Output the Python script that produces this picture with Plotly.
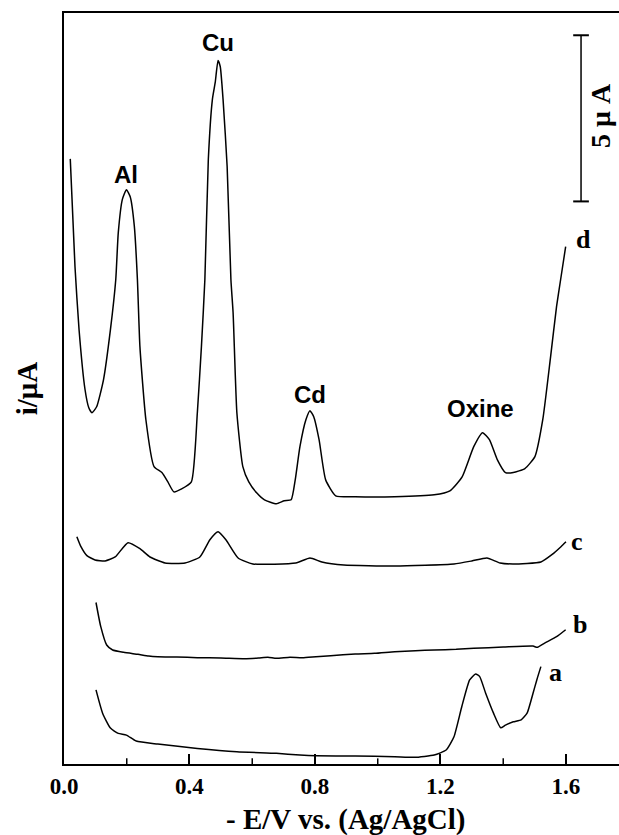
import plotly.graph_objects as go

# Differential pulse voltammograms: potential (-E/V vs Ag/AgCl) and current (uA, offset per curve)
d_potential = [0.020, 0.035, 0.048, 0.067, 0.079, 0.089, 0.104, 0.126, 0.148, 0.165, 0.173, 0.186,
               0.199, 0.211, 0.224, 0.234, 0.242, 0.261, 0.287, 0.312, 0.331, 0.350, 0.375, 0.406,
               0.425, 0.438, 0.449, 0.460, 0.473, 0.482, 0.491, 0.498, 0.507, 0.520, 0.532, 0.539,
               0.551, 0.570, 0.589, 0.614, 0.639, 0.677, 0.702, 0.724, 0.737, 0.752, 0.771, 0.784,
               0.796, 0.813, 0.834, 0.866, 0.928, 1.054, 1.180, 1.230, 1.269, 1.306, 1.334, 1.356,
               1.381, 1.407, 1.432, 1.469, 1.501, 1.526, 1.551, 1.570, 1.583, 1.599]
d_current = [18.21, 14.97, 13.07, 11.27, 10.72, 10.57, 10.75, 11.57, 13.07, 14.58, 15.99, 16.99,
             17.28, 17.07, 16.20, 14.58, 12.56, 10.36, 8.95, 8.77, 8.49, 8.19, 8.28, 8.49,
             10.57, 12.56, 14.58, 18.19, 20.00, 20.51, 21.17, 20.99, 20.00, 17.98, 14.58, 13.58,
             10.57, 8.95, 8.49, 8.16, 7.95, 7.83, 7.92, 7.95, 8.55, 9.55, 10.36, 10.63,
             10.45, 9.76, 8.55, 8.07, 8.04, 8.04, 8.10, 8.22, 8.64, 9.55, 9.97, 9.76,
             9.16, 8.77, 8.77, 8.89, 9.25, 10.36, 12.26, 13.77, 14.58, 15.57]

c_potential = [0.041, 0.054, 0.073, 0.099, 0.131, 0.163, 0.204, 0.242, 0.274, 0.322, 0.386, 0.433,
               0.465, 0.491, 0.516, 0.555, 0.602, 0.739, 0.784, 0.822, 0.892, 1.055, 1.243, 1.300,
               1.348, 1.390, 1.431, 1.520, 1.555, 1.584, 1.600]
c_current = [6.84, 6.54, 6.27, 6.14, 6.11, 6.23, 6.66, 6.48, 6.23, 6.05, 6.05, 6.23,
             6.75, 6.99, 6.75, 6.20, 6.02, 6.05, 6.20, 6.08, 5.99, 5.96, 6.02, 6.11,
             6.20, 6.05, 6.02, 6.08, 6.30, 6.54, 6.69]

b_potential = [0.102, 0.117, 0.136, 0.155, 0.190, 0.236, 0.270, 0.299, 0.360, 0.425, 0.500, 0.576,
               0.620, 0.650, 0.677, 0.720, 0.760, 0.803, 0.850, 0.928, 0.990, 1.054, 1.120, 1.180,
               1.250, 1.306, 1.400, 1.495, 1.508, 1.532, 1.570, 1.599]
b_current = [4.86, 4.14, 3.58, 3.43, 3.36, 3.30, 3.25, 3.23, 3.22, 3.20, 3.19, 3.17,
             3.19, 3.21, 3.18, 3.21, 3.20, 3.23, 3.26, 3.31, 3.33, 3.38, 3.41, 3.43,
             3.45, 3.48, 3.52, 3.55, 3.51, 3.64, 3.83, 4.04]

a_potential = [0.102, 0.123, 0.148, 0.173, 0.199, 0.230, 0.299, 0.425, 0.551, 0.677, 0.752, 0.803,
               0.928, 1.054, 1.117, 1.180, 1.218, 1.243, 1.268, 1.293, 1.312, 1.325, 1.344, 1.369,
               1.392, 1.407, 1.432, 1.457, 1.476, 1.495, 1.507, 1.520]
a_current = [2.23, 1.53, 1.08, 0.92, 0.87, 0.69, 0.60, 0.47, 0.37, 0.32, 0.27, 0.25,
             0.24, 0.22, 0.20, 0.27, 0.42, 0.82, 1.73, 2.53, 2.71, 2.63, 2.13, 1.53,
             1.09, 1.17, 1.27, 1.33, 1.53, 2.13, 2.53, 2.93]

curve_names = ["a", "b", "c", "d"]
peak_names = ["Al", "Cu", "Cd", "Oxine"]
x_tick_values = [0.0, 0.4, 0.8, 1.2, 1.6]
x_tick_labels = ["0.0", "0.4", "0.8", "1.2", "1.6"]
scale_bar_ua = 5

SERIF = "Liberation Serif, Times New Roman, serif"
SANS = "Liberation Sans, Arial, sans-serif"

fig = go.Figure()
for name, xs, ys in [("a", a_potential, a_current), ("b", b_potential, b_current),
                     ("c", c_potential, c_current), ("d", d_potential, d_current)]:
    fig.add_trace(go.Scatter(x=xs, y=ys, mode="lines", name=name,
                             line=dict(color="black", width=1.5, shape="spline", smoothing=0.5),
                             showlegend=False, hoverinfo="skip"))

# minor ticks at the half steps
minor_ticks = [0.2, 0.6, 1.0, 1.4]
for v in minor_ticks:
    fig.add_shape(type="line", xref="x", yref="paper", x0=v, x1=v, y0=0, y1=0.0075,
                  line=dict(color="black", width=1.5))

# scale bar for 5 uA
bar_x = 1.648
bar_top = 21.93
bar_bottom = bar_top - scale_bar_ua
cap = 0.025
fig.add_shape(type="line", x0=bar_x, x1=bar_x, y0=bar_bottom, y1=bar_top, line=dict(color="black", width=1.5))
for yv in (bar_bottom, bar_top):
    fig.add_shape(type="line", x0=bar_x - cap, x1=bar_x + cap, y0=yv, y1=yv, line=dict(color="black", width=2))
fig.add_annotation(x=1.708, y=(bar_top + bar_bottom) / 2 + 0.1, text="5 μ A", textangle=-90, showarrow=False,
                   xanchor="center", yanchor="middle", borderpad=0,
                   font=dict(family=SERIF, size=28, color="black", weight="bold"))

# peak labels
peak_pos = {"Al": (0.199, 17.74), "Cu": (0.491, 21.72), "Cd": (0.784, 11.11), "Oxine": (1.326, 10.69)}
for p in peak_names:
    px, py = peak_pos[p]
    fig.add_annotation(x=px, y=py, text=p, showarrow=False, xanchor="center", yanchor="middle",
                       font=dict(family=SANS, size=24, color="black", weight="bold"))

# curve labels
curve_pos = {"a": (1.568, 2.74), "b": (1.645, 4.19), "c": (1.635, 6.69), "d": (1.655, 15.78)}
for c in curve_names:
    cx, cy = curve_pos[c]
    fig.add_annotation(x=cx, y=cy, text=c, showarrow=False, xanchor="center", yanchor="middle",
                       font=dict(family=SERIF, size=26, color="black", weight="bold"))

# axis titles
fig.add_annotation(xref="paper", yref="paper", x=0.509, y=-0.0745, text="- E/V vs. (Ag/AgCl)",
                   xanchor="center", yanchor="middle",
                   showarrow=False, font=dict(family=SERIF, size=29, color="black", weight="bold"))
fig.add_annotation(xref="paper", yref="paper", x=-0.067, y=0.5, text="i/μA", textangle=-90,
                   xanchor="center", yanchor="middle",
                   showarrow=False, font=dict(family=SERIF, size=29, color="black", weight="bold"))

fig.update_layout(
    width=619, height=835,
    margin=dict(l=64, r=0, t=13, b=71),
    paper_bgcolor="white", plot_bgcolor="white",
    xaxis=dict(range=[0, 1.769], tickvals=x_tick_values, ticktext=x_tick_labels,
               ticks="inside", ticklen=10, tickwidth=1.5, tickcolor="black",
               showline=True, linecolor="black", linewidth=2, mirror=True,
               showgrid=False, zeroline=False,
               tickfont=dict(family=SERIF, size=23, color="black", weight="bold")),
    yaxis=dict(range=[0, 22.6], showticklabels=False, ticks="",
               showline=True, linecolor="black", linewidth=2, mirror=False,
               showgrid=False, zeroline=False),
)

fig.write_html("out.html")
